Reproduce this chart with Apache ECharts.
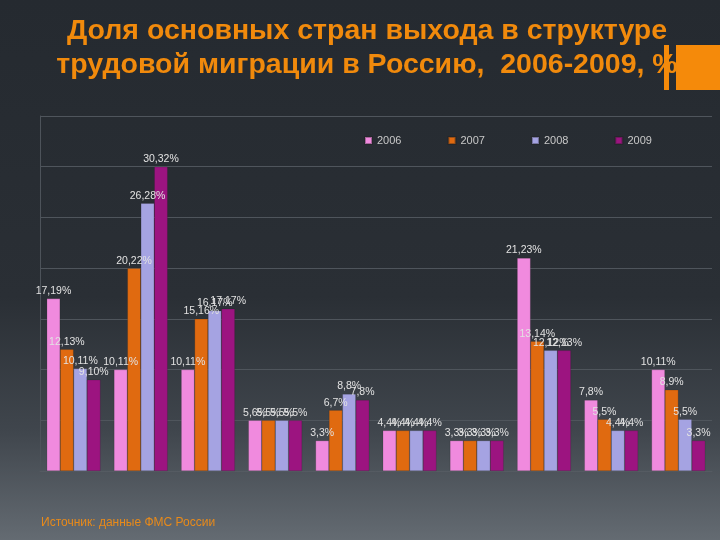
<!DOCTYPE html>
<html>
<head>
<meta charset="utf-8">
<script src="https://cdn.jsdelivr.net/npm/echarts@6/dist/echarts.min.js"></script>
<style>
html,body{margin:0;padding:0;}
#chart{width:720px;height:540px;}
</style>
</head>
<body>
<div id="chart"></div>
<script>
// ---- data ----
var categories = ['1','2','3','4','5','6','7','8','9','10'];
var seriesNames = ['2006','2007','2008','2009'];
var values2006 = [17, 10, 10, 5, 3, 4, 3, 21, 7, 10];
var values2007 = [12, 20, 15, 5, 6, 4, 3, 12.8, 5.1, 8];
var values2008 = [10.1, 26.4, 15.8, 5, 7.6, 4, 3, 11.9, 4, 5.1];
var values2009 = [9, 30, 16, 5, 7, 4, 3, 11.9, 4, 3];
var labels2006 = ['17,19%','10,11%','10,11%','5,6%','3,3%','4,4%','3,3%','21,23%','7,8%','10,11%'];
var labels2007 = ['12,13%','20,22%','15,16%','5,5%','6,7%','4,4%','3,3%','13,14%','5,5%','8,9%'];
var labels2008 = ['10,11%','26,28%','16,17%','5,5%','8,8%','4,4%','3,3%','12,12%','4,4%','5,5%'];
var labels2009 = ['9,10%','30,32%','17,17%','5,5%','7,8%','4,4%','3,3%','12,13%','4,4%','3,3%'];
var yTicks = [0, 5, 10, 15, 20, 25, 30, 35];

var titleText = 'Доля основных стран выхода в структуре\nтрудовой миграции в Россию,  2006-2009, %';
var sourceText = 'Источник: данные ФМС России';

var colors = ['#f08ade', '#e06a10', '#a5a3e2', '#9c1480'];
var allValues = [values2006, values2007, values2008, values2009];
var allLabels = [labels2006, labels2007, labels2008, labels2009];

var chart = echarts.init(document.getElementById('chart'), null, {renderer: 'canvas'});

var series = seriesNames.map(function (name, i) {
  return {
    name: name,
    type: 'bar',
    barGap: '0%',
    barCategoryGap: '20%',
    data: allValues[i],
    itemStyle: {color: colors[i], borderColor: 'rgba(30,30,30,0.35)', borderWidth: 0.5},
    label: {
      show: true,
      position: 'top',
      distance: 2,
      color: '#e2e2e2',
      fontFamily: 'Liberation Sans',
      fontSize: 10.5,
      formatter: function (p) { return allLabels[i][p.dataIndex]; }
    }
  };
});

var option = {
  backgroundColor: {
    type: 'linear', x: 0, y: 0, x2: 0, y2: 1,
    colorStops: [
      {offset: 0, color: '#252a30'},
      {offset: 0.55, color: '#2a2f35'},
      {offset: 0.8, color: '#40464d'},
      {offset: 1, color: '#646b72'}
    ]
  },
  animation: false,
  color: colors,
  title: {
    text: titleText,
    left: 362,
    textAlign: 'center',
    top: 9,
    textStyle: {
      color: '#f18a0c',
      fontFamily: 'Liberation Sans',
      fontWeight: 'bold',
      fontSize: 28.5,
      lineHeight: 34
    }
  },
  legend: {
    data: seriesNames,
    left: 359,
    top: 130,
    itemWidth: 7,
    itemHeight: 7,
    itemGap: 46,
    icon: 'rect',
    textStyle: {color: '#c8c8c8', fontFamily: 'Liberation Sans', fontSize: 11}
  },
  grid: {left: 40, right: 8, top: 116, bottom: 69},
  xAxis: {
    type: 'category',
    data: categories,
    axisLine: {show: true, lineStyle: {color: '#555b62', width: 1}},
    axisTick: {show: false},
    axisLabel: {show: false}
  },
  yAxis: {
    type: 'value',
    min: yTicks[0],
    max: yTicks[yTicks.length - 1],
    interval: yTicks[1] - yTicks[0],
    axisLine: {show: true, lineStyle: {color: '#4d535a'}},
    axisTick: {show: false},
    axisLabel: {show: false},
    splitLine: {show: true, lineStyle: {color: '#4f555c', width: 1}}
  },
  graphic: [
    {type: 'rect', shape: {x: 664, y: 45, width: 5, height: 45}, style: {fill: '#f58a0a'}},
    {type: 'rect', shape: {x: 676, y: 45, width: 44, height: 45}, style: {fill: '#f58a0a'}},
    {type: 'text', left: 41, top: 517, style: {text: sourceText, fill: '#e88a1a', font: '12px "Liberation Sans"'}}
  ],
  series: series
};
chart.setOption(option);
</script>
</body>
</html>
